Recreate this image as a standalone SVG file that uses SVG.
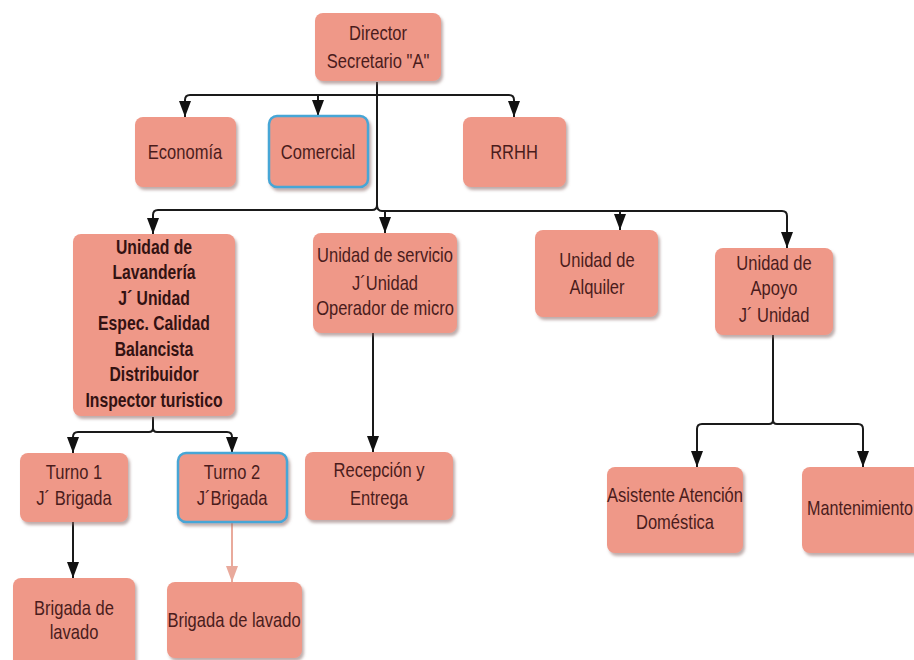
<svg xmlns="http://www.w3.org/2000/svg" width="914" height="660" viewBox="0 0 914 660">
<defs>
<filter id="sh" x="-10%" y="-10%" width="125%" height="130%">
<feDropShadow dx="2" dy="3" stdDeviation="1.5" flood-color="#8a6a66" flood-opacity="0.55"/>
</filter>
<marker id="ah" markerUnits="userSpaceOnUse" markerWidth="16" markerHeight="13" viewBox="0 0 16 13" refX="16" refY="6.5" orient="auto">
<path d="M0,0.5 L16,6.5 L0,12.5 Z" fill="#111"/>
</marker>
<marker id="ahp" markerUnits="userSpaceOnUse" markerWidth="16" markerHeight="13" viewBox="0 0 16 13" refX="16" refY="6.5" orient="auto">
<path d="M0,0.5 L16,6.5 L0,12.5 Z" fill="#e9aa9c"/>
</marker>
</defs>
<style>
.box{fill:#EF9888;filter:url(#sh)}
.sel{stroke:#46a6d6;stroke-width:2.5}
text{font-family:"Liberation Sans",Arial,sans-serif;font-size:19px;fill:#4a1c1c;text-anchor:middle}
.b{font-weight:bold;font-size:18.5px;fill:#331212}
.c{fill:none;stroke:#1a1a1a;stroke-width:2;marker-end:url(#ah)}
.l{fill:none;stroke:#1a1a1a;stroke-width:2}
.p{fill:none;stroke:#e9aa9c;stroke-width:2;marker-end:url(#ahp)}
</style>
<rect width="914" height="660" fill="#ffffff"/>
<g id="connectors">
<path class="l" d="M377,82 V205"/>
<path class="c" d="M377,95 H190 Q185,95 185,100 V117"/>
<path class="c" d="M377,95 H318 V116"/>
<path class="c" d="M377,95 H509 Q514,95 514,100 V117"/>
<path class="c" d="M377,205 Q377,210 372,210 H158 Q153,210 153,215 V234"/>
<path class="c" d="M377,205 Q377,211 382,211 H385 V233"/>
<path class="c" d="M385,211 H620 V230"/>
<path class="c" d="M620,211 H782 Q787,211 787,216 V248"/>
<path class="c" d="M153,417 V428 Q153,432 149,432 H78 Q73,432 73,437 V453"/>
<path class="c" d="M153,428 Q153,432 157,432 H227 Q232,432 232,437 V453"/>
<path class="c" d="M73,522 V578"/>
<path class="p" d="M232,522 V582"/>
<path class="c" d="M373,333 V452"/>
<path class="c" d="M773,335 V420 Q773,424 769,424 H702 Q697,424 697,429 V467"/>
<path class="c" d="M773,420 Q773,424 777,424 H858 Q863,424 863,429 V467"/>
</g>
<g id="director"><rect class="box" x="315" y="13" width="126" height="68" rx="8"/><text transform="translate(378 40) scale(0.87 1.1)">Director</text><text transform="translate(378 68) scale(0.87 1.1)">Secretario "A"</text></g>
<g id="economia"><rect class="box" x="135" y="117" width="101" height="70" rx="8"/><text transform="translate(185 159) scale(0.87 1.1)">Economía</text></g>
<g id="comercial"><rect class="box sel" x="269" y="116" width="99" height="71" rx="8"/><text transform="translate(318 159) scale(0.87 1.1)">Comercial</text></g>
<g id="rrhh"><rect class="box" x="463" y="117" width="103" height="70" rx="8"/><text transform="translate(514 159) scale(0.87 1.1)">RRHH</text></g>
<g id="lavanderia"><rect class="box" x="73" y="234" width="162" height="182" rx="8"/>
<text class="b" transform="translate(154 254) scale(0.85 1.08)">Unidad de</text>
<text class="b" transform="translate(154 279) scale(0.85 1.08)">Lavandería</text>
<text class="b" transform="translate(154 305) scale(0.85 1.08)">J´ Unidad</text>
<text class="b" transform="translate(154 330) scale(0.85 1.08)">Espec. Calidad</text>
<text class="b" transform="translate(154 356) scale(0.85 1.08)">Balancista</text>
<text class="b" transform="translate(154 381) scale(0.85 1.08)">Distribuidor</text>
<text class="b" transform="translate(154 407) scale(0.85 1.08)">Inspector turistico</text></g>
<g id="servicio"><rect class="box" x="313" y="233" width="144" height="100" rx="8"/>
<text transform="translate(385 262) scale(0.87 1.1)">Unidad de servicio</text><text transform="translate(385 290) scale(0.87 1.1)">J´Unidad</text><text transform="translate(385 315) scale(0.87 1.1)">Operador de micro</text></g>
<g id="alquiler"><rect class="box" x="535" y="230" width="123" height="87" rx="8"/>
<text transform="translate(597 267) scale(0.87 1.1)">Unidad de</text><text transform="translate(597 294) scale(0.87 1.1)">Alquiler</text></g>
<g id="apoyo"><rect class="box" x="715" y="248" width="118" height="87" rx="8"/>
<text transform="translate(774 270) scale(0.87 1.1)">Unidad de</text><text transform="translate(774 295) scale(0.87 1.1)">Apoyo</text><text transform="translate(774 322) scale(0.87 1.1)">J´ Unidad</text></g>
<g id="turno1"><rect class="box" x="20" y="453" width="108" height="69" rx="8"/>
<text transform="translate(74 479) scale(0.87 1.1)">Turno 1</text><text transform="translate(74 505) scale(0.87 1.1)">J´ Brigada</text></g>
<g id="turno2"><rect class="box sel" x="178" y="453" width="109" height="69" rx="8"/>
<text transform="translate(232 479) scale(0.87 1.1)">Turno 2</text><text transform="translate(232 505) scale(0.87 1.1)">J´Brigada</text></g>
<g id="recepcion"><rect class="box" x="305" y="452" width="148" height="68" rx="8"/>
<text transform="translate(379 477) scale(0.87 1.1)">Recepción y</text><text transform="translate(379 505) scale(0.87 1.1)">Entrega</text></g>
<g id="asistente"><rect class="box" x="607" y="467" width="136" height="86" rx="8"/>
<text transform="translate(675 502) scale(0.87 1.1)">Asistente Atención</text><text transform="translate(675 529) scale(0.87 1.1)">Doméstica</text></g>
<g id="mantenimiento"><rect class="box" x="802" y="467" width="130" height="86" rx="8"/>
<text transform="translate(860 515) scale(0.85 1.1)">Mantenimiento</text></g>
<g id="brigada1"><rect class="box" x="13" y="578" width="122" height="90" rx="8"/>
<text transform="translate(74 615) scale(0.87 1.1)">Brigada de</text><text transform="translate(74 639) scale(0.87 1.1)">lavado</text></g>
<g id="brigada2"><rect class="box" x="167" y="582" width="135" height="76" rx="8"/>
<text transform="translate(234 627) scale(0.87 1.1)">Brigada de lavado</text></g>
</svg>
